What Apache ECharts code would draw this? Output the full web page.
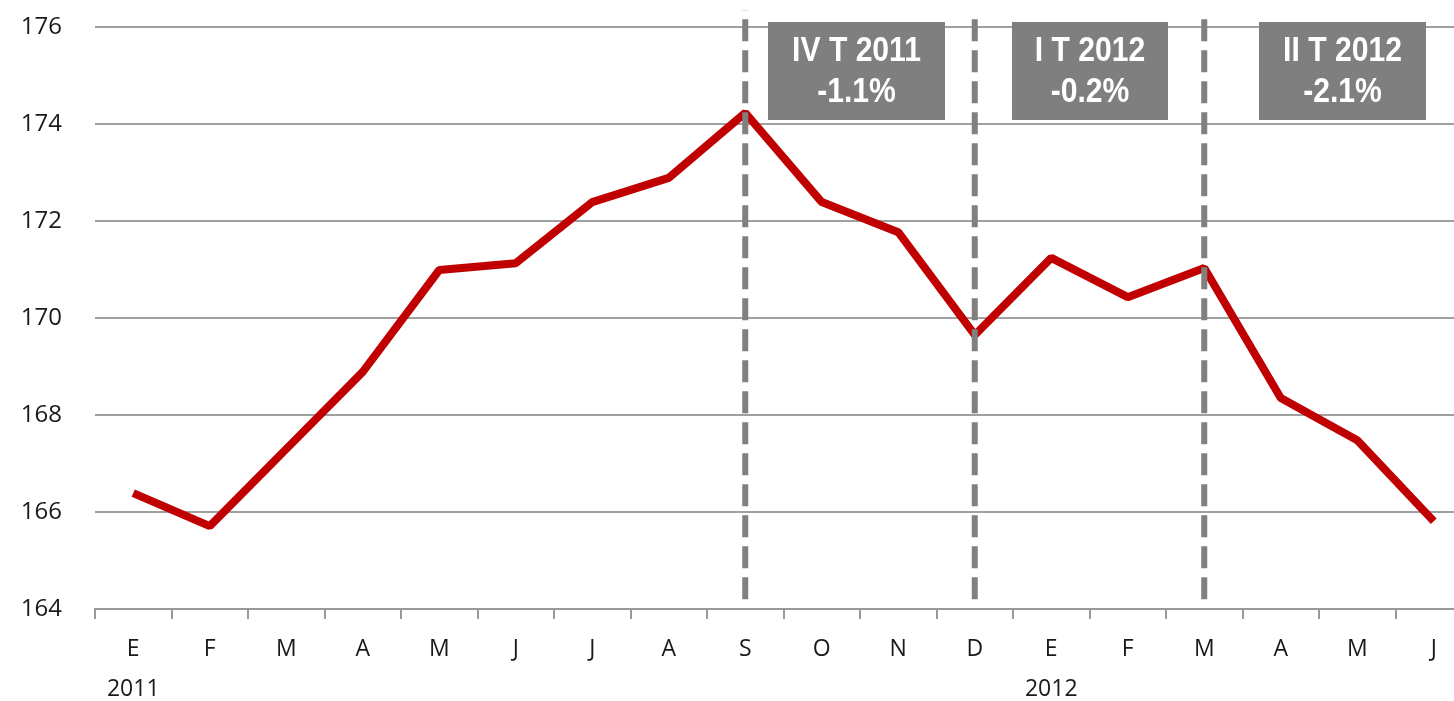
<!DOCTYPE html>
<html><head><meta charset="utf-8">
<script src="https://cdn.jsdelivr.net/npm/echarts@6/dist/echarts.min.js"></script>
<style>html,body{margin:0;padding:0;background:#fff;overflow:hidden;width:1454px;height:701px}#c{width:1472px;height:701px}</style>
</head><body><div id="c"></div>
<script>
const months = ['E','F','M','A','M','J','J','A','S','O','N','D','E','F','M','A','M','J'];
const years = {0:'2011', 12:'2012'};
const values = [166.39,165.71,167.3,168.89,170.99,171.13,172.39,172.89,174.23,172.39,171.77,169.65,171.24,170.43,171.03,168.35,167.48,165.81];
const yTicks = [164,166,168,170,172,174,176];
const quarterIdx = [8, 11, 14];
const quarterBottom = 164.2;
const quarterTop = [176.35, 176.3, 176.2];
const boxLabels = [['IV T 2011','-1.1%'],['I T 2012','-0.2%'],['II T 2012','-2.1%']];

const chart = echarts.init(document.getElementById('c'));
const boxes = [[768,945],[1012,1168],[1259,1426]];
const graphic = [];
boxes.forEach((b,i)=>{
  graphic.push({type:'rect', shape:{x:b[0], y:22, width:b[1]-b[0], height:98}, style:{fill:'#7f7f7f'}, z:100});
  graphic.push({type:'text', x:(b[0]+b[1])/2, y:72, scaleX:0.86, z:101, style:{text:boxLabels[i].join('\n'), fill:'#fff', font:'bold 35px "Liberation Sans Narrow", "Liberation Sans", Arial', align:'center', verticalAlign:'middle', lineHeight:41}});
});
const dashSeries = quarterIdx.map((q,i)=>({
  type:'line', data:[[q, quarterBottom],[q, quarterTop[i]]], symbol:'none', clip:false, silent:true, z:10,
  lineStyle:{color:'#808080', width:6, type:[22,9]}
}));
chart.setOption({
  animation:false,
  grid:{left:95, right:0, top:27, bottom:92, containLabel:false, outerBoundsMode:'none'},
  xAxis:{type:'category', data:months, boundaryGap:true,
    axisLine:{lineStyle:{color:'#9a9a9a', width:2}},
    axisTick:{show:true, length:10, lineStyle:{color:'#9a9a9a', width:2}},
    axisLabel:{color:'#1a1a1a', fontSize:23, fontFamily:'"Open Sans", Arial', margin:20, interval:0,
      formatter:(v,i)=> years[i] ? v+'\n'+years[i] : v, lineHeight:40,
      align:'center'}
  },
  yAxis:{type:'value', min:164, max:176, interval:2,
    axisLine:{show:false}, axisTick:{show:false},
    axisLabel:{color:'#1a1a1a', fontSize:24, fontFamily:'"Open Sans", Arial', margin:33},
    splitLine:{lineStyle:{color:'#a0a0a0', width:2}}
  },
  graphic: graphic,
  series:[{type:'line', data:values, symbol:'none', clip:false, lineStyle:{color:'#c00000', width:8}, z:5}].concat(dashSeries)
});
</script></body></html>
